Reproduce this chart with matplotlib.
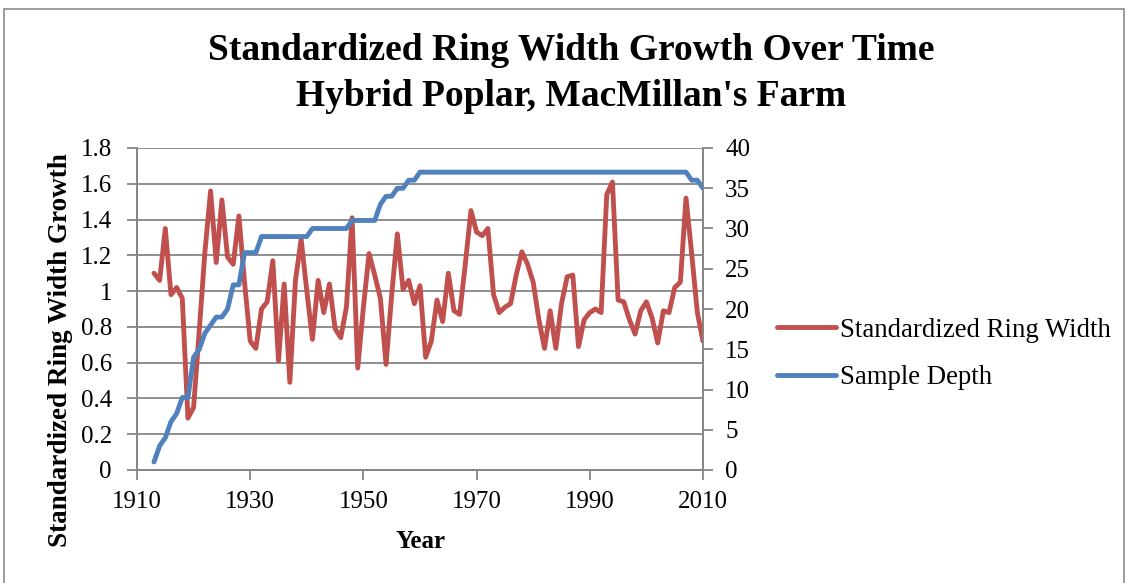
import numpy as np
import matplotlib
matplotlib.use('Agg')
import matplotlib.pyplot as plt
from matplotlib.patches import Rectangle

plt.rcParams['font.family'] = ['Liberation Serif', 'DejaVu Serif']

# standardized ring width index, one value per year from 1913
ring_width = [1.10, 1.06, 1.35, 0.98, 1.02, 0.96, 0.29, 0.35, 0.78, 1.22,
              1.56, 1.16, 1.51, 1.19, 1.15, 1.42, 1.05, 0.72, 0.68, 0.90,
              0.94, 1.17, 0.61, 1.04, 0.49, 1.06, 1.29, 1.00, 0.73, 1.06,
              0.88, 1.04, 0.79, 0.74, 0.91, 1.41, 0.57, 0.91, 1.21, 1.09,
              0.96, 0.59, 0.98, 1.32, 1.01, 1.06, 0.93, 1.03, 0.63, 0.72,
              0.95, 0.83, 1.10, 0.89, 0.87, 1.15, 1.45, 1.33, 1.31, 1.35,
              0.98, 0.88, 0.91, 0.93, 1.09, 1.22, 1.15, 1.05, 0.84, 0.68,
              0.89, 0.68, 0.93, 1.08, 1.09, 0.69, 0.84, 0.88, 0.90, 0.88,
              1.54, 1.61, 0.95, 0.94, 0.84, 0.76, 0.89, 0.94, 0.85, 0.71,
              0.89, 0.88, 1.02, 1.05, 1.52, 1.21, 0.88, 0.72]

# number of samples per year
sample_depth = [1, 3, 4, 6, 7, 9, 9, 14, 15, 17,
                18, 19, 19, 20, 23, 23, 27, 27, 27, 29,
                29, 29, 29, 29, 29, 29, 29, 29, 30, 30,
                30, 30, 30, 30, 30, 31, 31, 31, 31, 31,
                33, 34, 34, 35, 35, 36, 36, 37, 37, 37,
                37, 37, 37, 37, 37, 37, 37, 37, 37, 37,
                37, 37, 37, 37, 37, 37, 37, 37, 37, 37,
                37, 37, 37, 37, 37, 37, 37, 37, 37, 37,
                37, 37, 37, 37, 37, 37, 37, 37, 37, 37,
                37, 37, 37, 37, 37, 36, 36, 35]

years = np.arange(1913, 1913 + len(ring_width))

red = '#C0504D'
blue = '#4F81BD'
grey = '#868686'

W, H = 1127, 583
fig = plt.figure(figsize=(W / 100, H / 100), dpi=100)
fig.patches.append(Rectangle((4 / W, -0.05), 1120 / W, 1 - 9 / H + 0.05,
                             transform=fig.transFigure, fill=False,
                             edgecolor='#8c8c8c', linewidth=1.2))

ax = fig.add_axes([137 / W, 1 - 470 / H, (703 - 137) / W, (470 - 148) / H])
ax2 = ax.twinx()

l1, = ax.plot(years, ring_width, color=red, linewidth=3.5,
              solid_joinstyle='round', solid_capstyle='round', zorder=3)
l2, = ax2.plot(years, sample_depth, color=blue, linewidth=3.5,
               solid_joinstyle='round', solid_capstyle='round', zorder=3)

ax.set_xlim(1910, 2010)
ax.set_ylim(0, 1.8)
ax2.set_ylim(0, 40)

ax.set_yticks(np.arange(0, 1.81, 0.2))
ax.set_yticklabels(['0', '0.2', '0.4', '0.6', '0.8', '1', '1.2', '1.4', '1.6', '1.8'])
ax2.set_yticks(np.arange(0, 41, 5))
ax.set_xticks(np.arange(1910, 2011, 20))

ax.grid(axis='y', color=grey, linewidth=1.3)
ax.set_axisbelow(True)

for a in (ax, ax2):
    for s in a.spines.values():
        s.set_color(grey)
        s.set_linewidth(1.3)
    a.spines['top'].set_visible(False)
    a.tick_params(colors=grey, labelcolor='black', labelsize=18,
                  length=7, width=1.3, direction='out')
ax.tick_params(axis='y', pad=11)
ax.tick_params(axis='x', pad=8)
ax2.tick_params(axis='y', pad=9)

fig.text(420 / W, 1 - 541 / H, 'Year', ha='center', va='center',
         fontsize=18, fontweight='bold')
fig.text(61 / W, 1 - 350 / H, 'Standardized Ring Width Growth', ha='center',
         va='center', rotation=90, fontsize=19.5, fontweight='bold')

fig.text(571 / W, 1 - 51 / H, 'Standardized Ring Width Growth Over Time',
         ha='center', va='center', fontsize=27, fontweight='bold')
fig.text(571 / W, 1 - 96 / H, "Hybrid Poplar, MacMillan's Farm",
         ha='center', va='center', fontsize=27, fontweight='bold')

fig.legend([l1, l2], ['Standardized Ring Width', 'Sample Depth'],
           loc='center left', bbox_to_anchor=(753 / W, 1 - 354 / H),
           frameon=False, fontsize=19.3, handlelength=2.2, handletextpad=0.15,
           labelspacing=0.85)

fig.savefig('out.png', dpi=100)
